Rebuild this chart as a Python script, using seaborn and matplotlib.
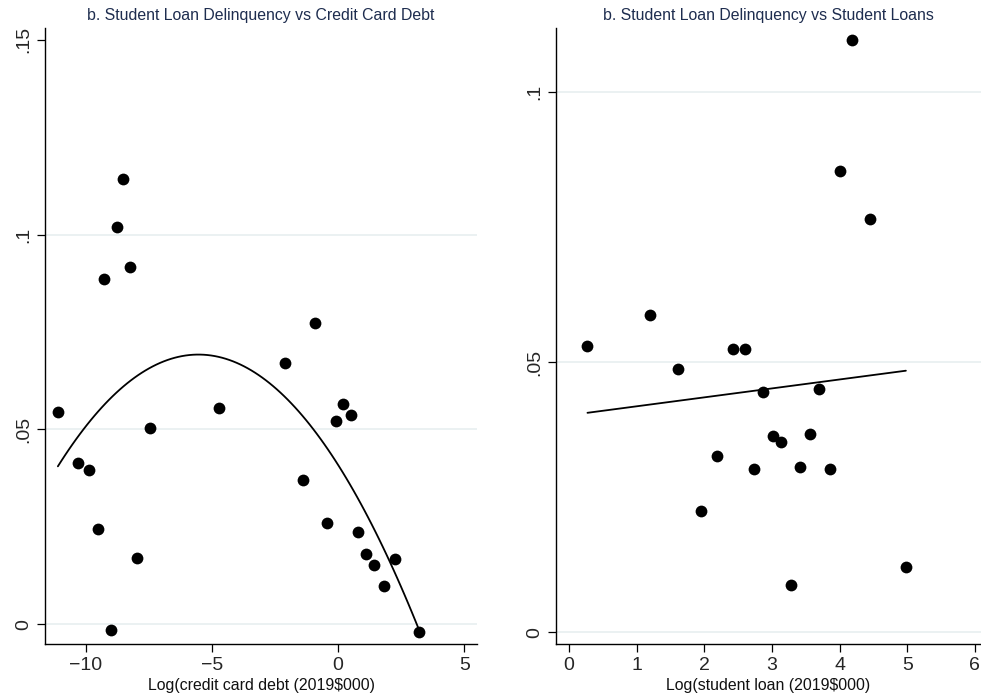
import numpy as np
import pandas as pd
import matplotlib
matplotlib.use("Agg")
import matplotlib.pyplot as plt
import seaborn as sns

# ---- data ----
cc_debt_log = [-11.10, -10.29, -9.87, -9.51, -9.01, -7.96, -7.47, -4.73, -2.11, -1.41,
               -0.46, -0.10, 0.20, 0.51, 0.79, 1.11, 1.44, 1.81, 2.26, 3.21,
               -8.51, -8.77, -8.25, -9.26, -0.92]
cc_delinq = [0.0544, 0.0413, 0.0395, 0.0245, -0.0015, 0.0170, 0.0504, 0.0554, 0.0670, 0.0369,
             0.0259, 0.0521, 0.0565, 0.0536, 0.0237, 0.0181, 0.0152, 0.0099, 0.0167, -0.0021,
             0.1143, 0.1019, 0.0917, 0.0887, 0.0772]

sl_log = [0.275, 1.62, 2.43, 2.60, 2.87, 3.70, 3.01, 3.14, 3.56, 2.19,
          2.73, 3.42, 3.86, 1.95, 3.28, 4.98, 4.19, 1.20, 4.00, 4.45]
sl_delinq = [0.0530, 0.0488, 0.0524, 0.0524, 0.0445, 0.0450, 0.0364, 0.0352, 0.0367, 0.0327,
             0.0303, 0.0306, 0.0302, 0.0225, 0.0088, 0.0121, 0.1096, 0.0587, 0.0855, 0.0765]

left_title = "b. Student Loan Delinquency vs Credit Card Debt"
right_title = "b. Student Loan Delinquency vs Student Loans"
left_xlabel = "Log(credit card debt (2019$000)"
right_xlabel = "Log(student loan (2019$000)"
left_yticks = [0, 0.05, 0.1, 0.15]
left_yticklabels = ["0", ".05", ".1", ".15"]
right_yticks = [0, 0.05, 0.1]
right_yticklabels = ["0", ".05", ".1"]
left_xticks = [-10, -5, 0, 5]
left_xticklabels = ["\u221210", "\u22125", "0", "5"]
right_xticks = [0, 1, 2, 3, 4, 5, 6]

df_cc = pd.DataFrame({"x": cc_debt_log, "y": cc_delinq})
df_sl = pd.DataFrame({"x": sl_log, "y": sl_delinq})

sns.set_theme(style="white")
plt.rcParams["font.family"] = ["Liberation Sans", "DejaVu Sans"]

fig = plt.figure(figsize=(9.81, 6.96), dpi=100)
ax1 = fig.add_axes([45/981, 1-644/696, (477-45)/981, (644-28)/696])
ax2 = fig.add_axes([556/981, 1-644/696, (981-556)/981, (644-28)/696])

title_color = "#1e2d4f"
grid_color = "#e8eff0"

def style(ax, yticks, yticklabels, xticks, xticklabels, title, xlabel, hide_top_grid):
    ax.set_yticks(yticks)
    ax.set_yticklabels(yticklabels, rotation=90, va="center", fontsize=14)
    ax.set_xticks(xticks)
    ax.set_xticklabels(xticklabels, fontsize=14)
    ax.tick_params(axis="both", direction="out", length=6, width=0.9, color="black",
                   left=True, bottom=True, pad=3)
    for s in ["top", "right"]:
        ax.spines[s].set_visible(False)
    for s in ["left", "bottom"]:
        ax.spines[s].set_color("black")
        ax.spines[s].set_linewidth(1.0)
    ax.grid(False)
    ax.yaxis.grid(True, color=grid_color, linewidth=1.2)
    ax.set_axisbelow(True)
    if hide_top_grid:
        ax.get_ygridlines()[-1].set_visible(False)
    ax.set_title(title, fontsize=11.4, color=title_color, pad=6)
    ax.set_xlabel(xlabel, fontsize=11.4, color="#111111", labelpad=3)
    ax.set_ylabel("")

# left panel: quadratic fit
sns.regplot(data=df_cc, x="x", y="y", order=2, ci=None, scatter=False, ax=ax1,
            line_kws=dict(color="black", linewidth=1.3))
sns.scatterplot(data=df_cc, x="x", y="y", ax=ax1, color="black", s=72, edgecolor="black",
                linewidth=0, zorder=3)
ax1.set_xlim(-11.61, 5.50)
ax1.set_ylim(-0.0051, 0.153)
style(ax1, left_yticks, left_yticklabels, left_xticks, left_xticklabels,
      left_title, left_xlabel, True)

# right panel: linear fit
sns.regplot(data=df_sl, x="x", y="y", ci=None, scatter=False, ax=ax2,
            line_kws=dict(color="black", linewidth=1.3))
sns.scatterplot(data=df_sl, x="x", y="y", ax=ax2, color="black", s=72, edgecolor="black",
                linewidth=0, zorder=3)
ax2.set_xlim(-0.19, 6.09)
ax2.set_ylim(-0.0022, 0.1119)
style(ax2, right_yticks, right_yticklabels, right_xticks, [str(t) for t in right_xticks],
      right_title, right_xlabel, False)

fig.savefig("out.png", dpi=100, facecolor="white")
